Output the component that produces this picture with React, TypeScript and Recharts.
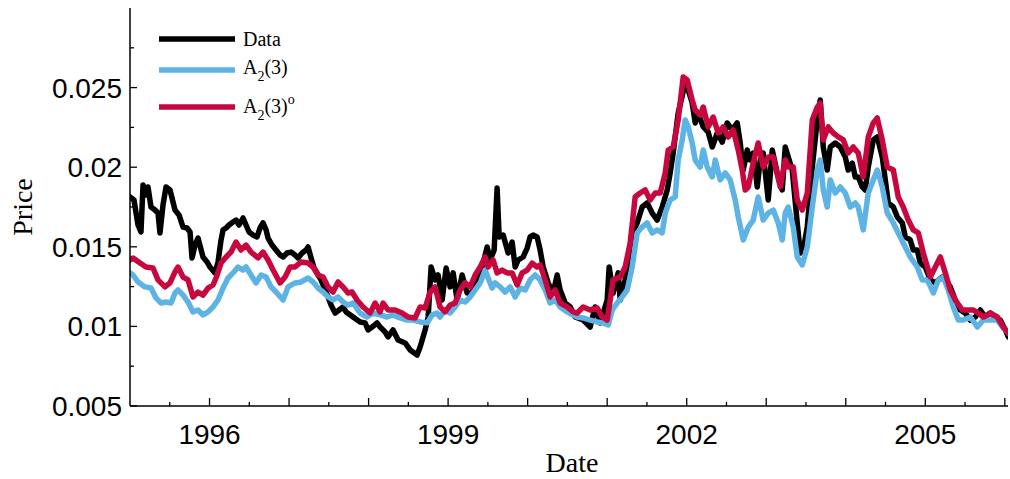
import React from 'react';
import { LineChart, Line, XAxis, YAxis, Legend } from 'recharts';

// [year, price]
const dataSeries: [number, number][] = [
  [1995.000,0.01813],[1995.050,0.01794],[1995.101,0.01637],[1995.138,0.01593],[1995.164,0.01888],[1995.201,0.01825],[1995.226,0.01876],[1995.264,0.01750],[1995.314,0.01731],[1995.352,0.01712],[1995.377,0.01587],[1995.415,0.01763],[1995.453,0.01876],[1995.503,0.01857],[1995.566,0.01731],[1995.616,0.01700],[1995.667,0.01624],[1995.717,0.01618],[1995.755,0.01593],[1995.780,0.01430],[1995.818,0.01511],[1995.855,0.01555],[1995.918,0.01436],[1995.969,0.01405],[1996.006,0.01373],[1996.069,0.01336],[1996.107,0.01405],[1996.145,0.01543],[1996.170,0.01606],[1996.208,0.01618],[1996.245,0.01637],[1996.296,0.01656],[1996.333,0.01668],[1996.371,0.01637],[1996.421,0.01681],[1996.459,0.01637],[1996.497,0.01593],[1996.547,0.01574],[1996.597,0.01562],[1996.635,0.01618],[1996.673,0.01650],[1996.711,0.01606],[1996.736,0.01555],[1996.786,0.01511],[1996.836,0.01480],[1996.887,0.01449],[1996.925,0.01436],[1996.975,0.01461],[1997.025,0.01467],[1997.075,0.01449],[1997.113,0.01430],[1997.164,0.01461],[1997.214,0.01480],[1997.239,0.01499],[1997.277,0.01430],[1997.314,0.01367],[1997.365,0.01323],[1997.403,0.01292],[1997.453,0.01229],[1997.491,0.01185],[1997.528,0.01134],[1997.579,0.01084],[1997.629,0.01103],[1997.679,0.01122],[1997.717,0.01091],[1997.805,0.01059],[1997.893,0.01028],[1997.956,0.01022],[1997.994,0.00978],[1998.044,0.00996],[1998.107,0.01022],[1998.145,0.00996],[1998.208,0.00965],[1998.245,0.00934],[1998.308,0.00978],[1998.371,0.00915],[1998.459,0.00896],[1998.522,0.00852],[1998.610,0.00820],[1998.648,0.00871],[1998.711,0.00978],[1998.749,0.01059],[1998.786,0.01373],[1998.836,0.01292],[1998.874,0.01323],[1998.925,0.01166],[1998.975,0.01367],[1999.025,0.01248],[1999.063,0.01336],[1999.113,0.01166],[1999.176,0.01323],[1999.239,0.01210],[1999.302,0.01210],[1999.365,0.01292],[1999.428,0.01373],[1999.491,0.01499],[1999.528,0.01417],[1999.579,0.01480],[1999.616,0.01869],[1999.642,0.01562],[1999.692,0.01574],[1999.755,0.01461],[1999.805,0.01530],[1999.843,0.01373],[1999.881,0.01417],[1999.943,0.01436],[1999.994,0.01492],[2000.031,0.01562],[2000.069,0.01574],[2000.119,0.01562],[2000.157,0.01480],[2000.195,0.01373],[2000.258,0.01273],[2000.321,0.01210],[2000.371,0.01323],[2000.409,0.01229],[2000.472,0.01147],[2000.535,0.01122],[2000.597,0.01059],[2000.698,0.01040],[2000.786,0.00996],[2000.849,0.01122],[2000.912,0.01022],[2001.000,0.01166],[2001.025,0.01373],[2001.075,0.01210],[2001.138,0.01336],[2001.164,0.01166],[2001.226,0.01292],[2001.314,0.01587],[2001.377,0.01650],[2001.440,0.01750],[2001.503,0.01775],[2001.566,0.01712],[2001.629,0.01668],[2001.692,0.01750],[2001.755,0.01857],[2001.792,0.01964],[2001.830,0.02089],[2001.893,0.02340],[2001.981,0.02529],[2002.019,0.02485],[2002.069,0.02403],[2002.107,0.02278],[2002.145,0.02340],[2002.208,0.02253],[2002.270,0.02221],[2002.321,0.02127],[2002.384,0.02215],[2002.447,0.02158],[2002.509,0.02278],[2002.572,0.02234],[2002.635,0.02278],[2002.673,0.02152],[2002.711,0.01982],[2002.761,0.02108],[2002.799,0.02045],[2002.836,0.02089],[2002.887,0.01876],[2002.925,0.02045],[2002.962,0.02089],[2003.025,0.01794],[2003.076,0.02108],[2003.138,0.01964],[2003.201,0.01857],[2003.239,0.02127],[2003.277,0.02064],[2003.327,0.01982],[2003.390,0.01650],[2003.428,0.01461],[2003.465,0.01480],[2003.516,0.01624],[2003.579,0.02001],[2003.642,0.02297],[2003.679,0.02422],[2003.717,0.02127],[2003.767,0.01982],[2003.805,0.02127],[2003.868,0.02152],[2003.931,0.02127],[2003.994,0.02064],[2004.031,0.01982],[2004.082,0.02026],[2004.119,0.01939],[2004.157,0.01939],[2004.208,0.01876],[2004.245,0.01857],[2004.283,0.02001],[2004.346,0.02171],[2004.396,0.02190],[2004.459,0.02064],[2004.497,0.01920],[2004.535,0.01775],[2004.598,0.01750],[2004.648,0.01687],[2004.711,0.01650],[2004.748,0.01562],[2004.811,0.01543],[2004.849,0.01480],[2004.899,0.01480],[2004.937,0.01398],[2005.000,0.01373],[2005.063,0.01292],[2005.126,0.01273],[2005.164,0.01292],[2005.214,0.01310],[2005.252,0.01292],[2005.314,0.01248],[2005.377,0.01166],[2005.440,0.01103],[2005.503,0.01084],[2005.566,0.01040],[2005.629,0.01059],[2005.692,0.01103],[2005.755,0.01059],[2005.818,0.01084],[2005.881,0.01059],[2005.943,0.01040],[2006.006,0.00978],[2006.044,0.00934]
];

const a23Series: [number, number][] = [
  [1995.000,0.01336],[1995.038,0.01323],[1995.101,0.01279],[1995.189,0.01248],[1995.264,0.01241],[1995.327,0.01179],[1995.390,0.01147],[1995.453,0.01153],[1995.516,0.01147],[1995.566,0.01210],[1995.604,0.01229],[1995.667,0.01197],[1995.730,0.01153],[1995.792,0.01091],[1995.855,0.01103],[1995.918,0.01072],[1995.981,0.01091],[1996.044,0.01122],[1996.107,0.01166],[1996.170,0.01241],[1996.233,0.01304],[1996.296,0.01336],[1996.358,0.01373],[1996.421,0.01354],[1996.459,0.01373],[1996.522,0.01323],[1996.585,0.01273],[1996.648,0.01323],[1996.711,0.01310],[1996.774,0.01248],[1996.836,0.01216],[1996.925,0.01166],[1996.987,0.01248],[1997.075,0.01273],[1997.151,0.01279],[1997.239,0.01304],[1997.302,0.01279],[1997.365,0.01241],[1997.428,0.01216],[1997.491,0.01185],[1997.553,0.01166],[1997.616,0.01185],[1997.679,0.01153],[1997.742,0.01134],[1997.805,0.01147],[1997.893,0.01084],[1997.981,0.01059],[1998.057,0.01084],[1998.145,0.01072],[1998.233,0.01059],[1998.308,0.01072],[1998.396,0.01053],[1998.484,0.01040],[1998.560,0.01040],[1998.648,0.01028],[1998.736,0.01022],[1998.799,0.01072],[1998.862,0.01084],[1998.899,0.01059],[1998.962,0.01103],[1999.025,0.01084],[1999.088,0.01122],[1999.151,0.01166],[1999.214,0.01153],[1999.277,0.01185],[1999.340,0.01229],[1999.403,0.01273],[1999.465,0.01354],[1999.503,0.01304],[1999.553,0.01241],[1999.591,0.01273],[1999.654,0.01248],[1999.717,0.01216],[1999.780,0.01248],[1999.843,0.01185],[1999.906,0.01241],[1999.969,0.01229],[2000.031,0.01292],[2000.094,0.01323],[2000.157,0.01292],[2000.220,0.01229],[2000.283,0.01147],[2000.346,0.01166],[2000.409,0.01122],[2000.497,0.01091],[2000.572,0.01072],[2000.623,0.01059],[2000.698,0.01053],[2000.786,0.01040],[2000.874,0.01028],[2000.950,0.01022],[2001.013,0.01009],[2001.063,0.01103],[2001.126,0.01147],[2001.189,0.01185],[2001.252,0.01229],[2001.314,0.01373],[2001.377,0.01587],[2001.440,0.01624],[2001.503,0.01650],[2001.566,0.01587],[2001.629,0.01606],[2001.692,0.01587],[2001.730,0.01712],[2001.792,0.01794],[2001.855,0.01813],[2001.893,0.02045],[2001.943,0.02171],[2001.981,0.02297],[2002.019,0.02253],[2002.069,0.02152],[2002.107,0.02045],[2002.170,0.02001],[2002.208,0.02108],[2002.258,0.02001],[2002.321,0.01939],[2002.359,0.02045],[2002.421,0.01920],[2002.484,0.01964],[2002.547,0.01920],[2002.610,0.01794],[2002.648,0.01687],[2002.711,0.01543],[2002.774,0.01624],[2002.836,0.01668],[2002.899,0.01813],[2002.962,0.01668],[2003.025,0.01712],[2003.088,0.01731],[2003.151,0.01650],[2003.201,0.01543],[2003.239,0.01712],[2003.277,0.01750],[2003.340,0.01624],[2003.390,0.01436],[2003.453,0.01386],[2003.516,0.01499],[2003.579,0.01750],[2003.642,0.01982],[2003.679,0.02045],[2003.717,0.01857],[2003.767,0.01750],[2003.805,0.01920],[2003.868,0.01838],[2003.931,0.01876],[2003.994,0.01838],[2004.057,0.01750],[2004.119,0.01775],[2004.157,0.01750],[2004.220,0.01606],[2004.283,0.01838],[2004.346,0.01920],[2004.396,0.01982],[2004.459,0.01876],[2004.522,0.01712],[2004.598,0.01650],[2004.660,0.01587],[2004.723,0.01524],[2004.811,0.01436],[2004.899,0.01373],[2004.962,0.01292],[2005.025,0.01292],[2005.101,0.01210],[2005.164,0.01292],[2005.226,0.01310],[2005.289,0.01229],[2005.352,0.01122],[2005.415,0.01040],[2005.478,0.01040],[2005.566,0.01059],[2005.654,0.00996],[2005.730,0.01040],[2005.818,0.01040],[2005.906,0.01040],[2005.981,0.00990],[2006.044,0.00959]
];

const a23oSeries: [number, number][] = [
  [1995.000,0.01417],[1995.038,0.01430],[1995.126,0.01398],[1995.201,0.01373],[1995.289,0.01367],[1995.352,0.01292],[1995.440,0.01248],[1995.503,0.01273],[1995.566,0.01342],[1995.604,0.01373],[1995.667,0.01310],[1995.730,0.01292],[1995.792,0.01185],[1995.855,0.01216],[1995.918,0.01197],[1995.981,0.01241],[1996.044,0.01260],[1996.082,0.01304],[1996.145,0.01398],[1996.208,0.01436],[1996.270,0.01467],[1996.333,0.01530],[1996.396,0.01480],[1996.459,0.01511],[1996.522,0.01467],[1996.610,0.01430],[1996.673,0.01467],[1996.736,0.01417],[1996.799,0.01354],[1996.887,0.01273],[1996.950,0.01310],[1997.013,0.01373],[1997.075,0.01373],[1997.151,0.01405],[1997.239,0.01398],[1997.302,0.01373],[1997.365,0.01323],[1997.428,0.01310],[1997.491,0.01248],[1997.553,0.01216],[1997.616,0.01279],[1997.679,0.01248],[1997.742,0.01210],[1997.792,0.01216],[1997.855,0.01166],[1997.931,0.01122],[1998.019,0.01084],[1998.082,0.01147],[1998.145,0.01091],[1998.182,0.01147],[1998.245,0.01103],[1998.333,0.01103],[1998.421,0.01084],[1998.497,0.01059],[1998.585,0.01053],[1998.648,0.01122],[1998.711,0.01116],[1998.774,0.01216],[1998.836,0.01248],[1998.899,0.01122],[1998.962,0.01091],[1999.025,0.01134],[1999.088,0.01147],[1999.151,0.01229],[1999.214,0.01273],[1999.277,0.01248],[1999.340,0.01323],[1999.403,0.01373],[1999.465,0.01436],[1999.503,0.01373],[1999.566,0.01417],[1999.616,0.01336],[1999.679,0.01354],[1999.742,0.01336],[1999.805,0.01336],[1999.868,0.01260],[1999.931,0.01336],[1999.994,0.01354],[2000.057,0.01398],[2000.119,0.01373],[2000.157,0.01386],[2000.220,0.01292],[2000.283,0.01185],[2000.346,0.01229],[2000.409,0.01147],[2000.497,0.01122],[2000.572,0.01091],[2000.623,0.01084],[2000.698,0.01122],[2000.786,0.01103],[2000.874,0.01116],[2000.937,0.01059],[2001.000,0.01040],[2001.038,0.01166],[2001.075,0.01292],[2001.164,0.01310],[2001.226,0.01373],[2001.289,0.01524],[2001.352,0.01813],[2001.415,0.01838],[2001.478,0.01857],[2001.541,0.01794],[2001.604,0.01838],[2001.667,0.01838],[2001.730,0.01964],[2001.767,0.02108],[2001.830,0.02127],[2001.893,0.02297],[2001.956,0.02567],[2002.006,0.02548],[2002.069,0.02422],[2002.107,0.02359],[2002.170,0.02328],[2002.208,0.02378],[2002.270,0.02253],[2002.333,0.02315],[2002.396,0.02215],[2002.459,0.02253],[2002.522,0.02190],[2002.585,0.02234],[2002.648,0.02108],[2002.698,0.01982],[2002.736,0.01857],[2002.774,0.01876],[2002.836,0.02026],[2002.899,0.02152],[2002.962,0.02001],[2003.025,0.02064],[2003.088,0.02064],[2003.176,0.01876],[2003.239,0.02045],[2003.277,0.02001],[2003.340,0.02001],[2003.390,0.01794],[2003.453,0.01731],[2003.516,0.01838],[2003.579,0.02297],[2003.642,0.02378],[2003.679,0.02403],[2003.717,0.02171],[2003.780,0.02253],[2003.843,0.02215],[2003.906,0.02190],[2003.969,0.02171],[2004.031,0.02089],[2004.094,0.02127],[2004.157,0.02089],[2004.220,0.01939],[2004.283,0.02190],[2004.346,0.02278],[2004.396,0.02309],[2004.459,0.02171],[2004.522,0.02001],[2004.598,0.01982],[2004.660,0.01813],[2004.723,0.01750],[2004.786,0.01668],[2004.849,0.01606],[2004.912,0.01587],[2004.975,0.01461],[2005.063,0.01310],[2005.126,0.01373],[2005.189,0.01436],[2005.252,0.01336],[2005.314,0.01229],[2005.377,0.01166],[2005.465,0.01103],[2005.528,0.01103],[2005.604,0.01103],[2005.667,0.01084],[2005.730,0.01059],[2005.818,0.01084],[2005.906,0.01059],[2005.981,0.00996],[2006.044,0.00959]
];

const xTicks = [1995.5, 1996, 1996.5, 1997, 1997.5, 1998, 1998.5, 1999, 1999.5, 2000, 2000.5, 2001, 2001.5, 2002, 2002.5, 2003, 2003.5, 2004, 2004.5, 2005, 2005.5, 2006];
const xLabelYears = [1996, 1999, 2002, 2005];
const yTicks = [0.005, 0.0075, 0.01, 0.0125, 0.015, 0.0175, 0.02, 0.0225, 0.025, 0.0275];
const yTickLabels: Record<string, string> = { '0.005': '0.005', '0.01': '0.01', '0.015': '0.015', '0.02': '0.02', '0.025': '0.025' };

const BLACK = '#000000';
const BLUE = '#5cb3e4';
const RED = '#c8073f';

const SANS = '"Liberation Sans", Arial, Helvetica, sans-serif';
const SERIF = '"Liberation Serif", "Times New Roman", Times, serif';

const toRows = (s: [number, number][]) => s.map(([x, y]) => ({ x, y }));

const XTick = (props: any) => {
  const { x, y, payload } = props;
  const v = payload.value as number;
  const major = Math.abs(v - Math.round(v)) < 1e-6;
  const label = xLabelYears.includes(v);
  return (
    <g>
      <line x1={x} x2={x} y1={y} y2={y - (major ? 8 : 4)} stroke="#000" strokeWidth={1.3} />
      {label && (
        <text x={x} y={y + 38} textAnchor="middle" fontSize={28} fontFamily={SANS} fill="#000">
          {v}
        </text>
      )}
    </g>
  );
};

const YTick = (props: any) => {
  const { x, y, payload } = props;
  const v = payload.value as number;
  const key = String(+v.toFixed(4));
  const lbl = yTickLabels[key];
  return (
    <g>
      <line x1={x} x2={x + (lbl ? 7 : 4)} y1={y} y2={y} stroke="#000" strokeWidth={1.3} />
      {lbl && (
        <text x={x - 8} y={y + 10} textAnchor="end" fontSize={28} fontFamily={SANS} fill="#000">
          {lbl}
        </text>
      )}
    </g>
  );
};

const LegendBox = () => (
  <svg width={180} height={110} style={{ display: 'block' }}>
    <line x1={9} x2={85} y1={19} y2={19} stroke={BLACK} strokeWidth={5.5} />
    <text x={93} y={26} fontSize={20} fontFamily={SERIF} fill="#000">Data</text>
    <line x1={9} x2={85} y1={50} y2={50} stroke={BLUE} strokeWidth={5.5} />
    <text x={93} y={54} fontSize={20} fontFamily={SERIF} fill="#000">
      A<tspan fontSize={14} dy={7}>2</tspan><tspan dy={-7}>(3)</tspan>
    </text>
    <line x1={9} x2={85} y1={87} y2={87} stroke={RED} strokeWidth={5.5} />
    <text x={93} y={93} fontSize={20} fontFamily={SERIF} fill="#000">
      A<tspan fontSize={14} dy={7}>2</tspan><tspan dy={-7}>(3)</tspan><tspan fontSize={14} dy={-9}>o</tspan>
    </text>
  </svg>
);

export default function App() {
  return (
    <div style={{ position: 'absolute', left: 0, top: 0, width: 1010, height: 479, background: '#fff' }}>
      <LineChart width={1010} height={479} margin={{ top: 8, right: 2, left: 0, bottom: 0 }}>
        <XAxis
          type="number"
          dataKey="x"
          domain={[1995, 2006.04]}
          ticks={xTicks}
          allowDataOverflow
          height={73}
          tickSize={0}
          tickMargin={0}
          tickLine={false}
          axisLine={{ stroke: '#000', strokeWidth: 1.5 }}
          tick={<XTick />}
          interval={0}
          label={(p: any) => {
            const vb = p.viewBox || {};
            return (
              <text x={572} y={(vb.y ?? 406) + 66} textAnchor="middle" fontSize={28} fontFamily={SERIF} fill="#000">
                Date
              </text>
            );
          }}
        />
        <YAxis
          type="number"
          domain={[0.005, 0.03]}
          ticks={yTicks}
          allowDataOverflow
          width={130}
          tickSize={0}
          tickMargin={0}
          tickLine={false}
          axisLine={{ stroke: '#000', strokeWidth: 1.5 }}
          tick={<YTick />}
          interval={0}
          label={(p: any) => {
            const vb = p.viewBox || {};
            const cy = (vb.y ?? 8) + (vb.height ?? 398) / 2;
            return (
              <text x={32} y={cy} transform={`rotate(-90, 32, ${cy})`} textAnchor="middle" fontSize={28} fontFamily={SERIF} fill="#000">
                Price
              </text>
            );
          }}
        />
        <Legend
          layout="horizontal"
          verticalAlign="middle"
          align="center"
          wrapperStyle={{ position: 'absolute', left: 150, top: 20, width: 180, height: 110 }}
          content={() => <LegendBox />}
        />
        <Line data={toRows(dataSeries)} dataKey="y" name="Data" stroke={BLACK} strokeWidth={5.5} dot={false} isAnimationActive={false} strokeLinejoin="round" strokeLinecap="round" />
        <Line data={toRows(a23Series)} dataKey="y" name="A2(3)" stroke={BLUE} strokeWidth={5.5} dot={false} isAnimationActive={false} strokeLinejoin="round" strokeLinecap="round" />
        <Line data={toRows(a23oSeries)} dataKey="y" name="A2(3)o" stroke={RED} strokeWidth={5.5} dot={false} isAnimationActive={false} strokeLinejoin="round" strokeLinecap="round" />
      </LineChart>
    </div>
  );
}
